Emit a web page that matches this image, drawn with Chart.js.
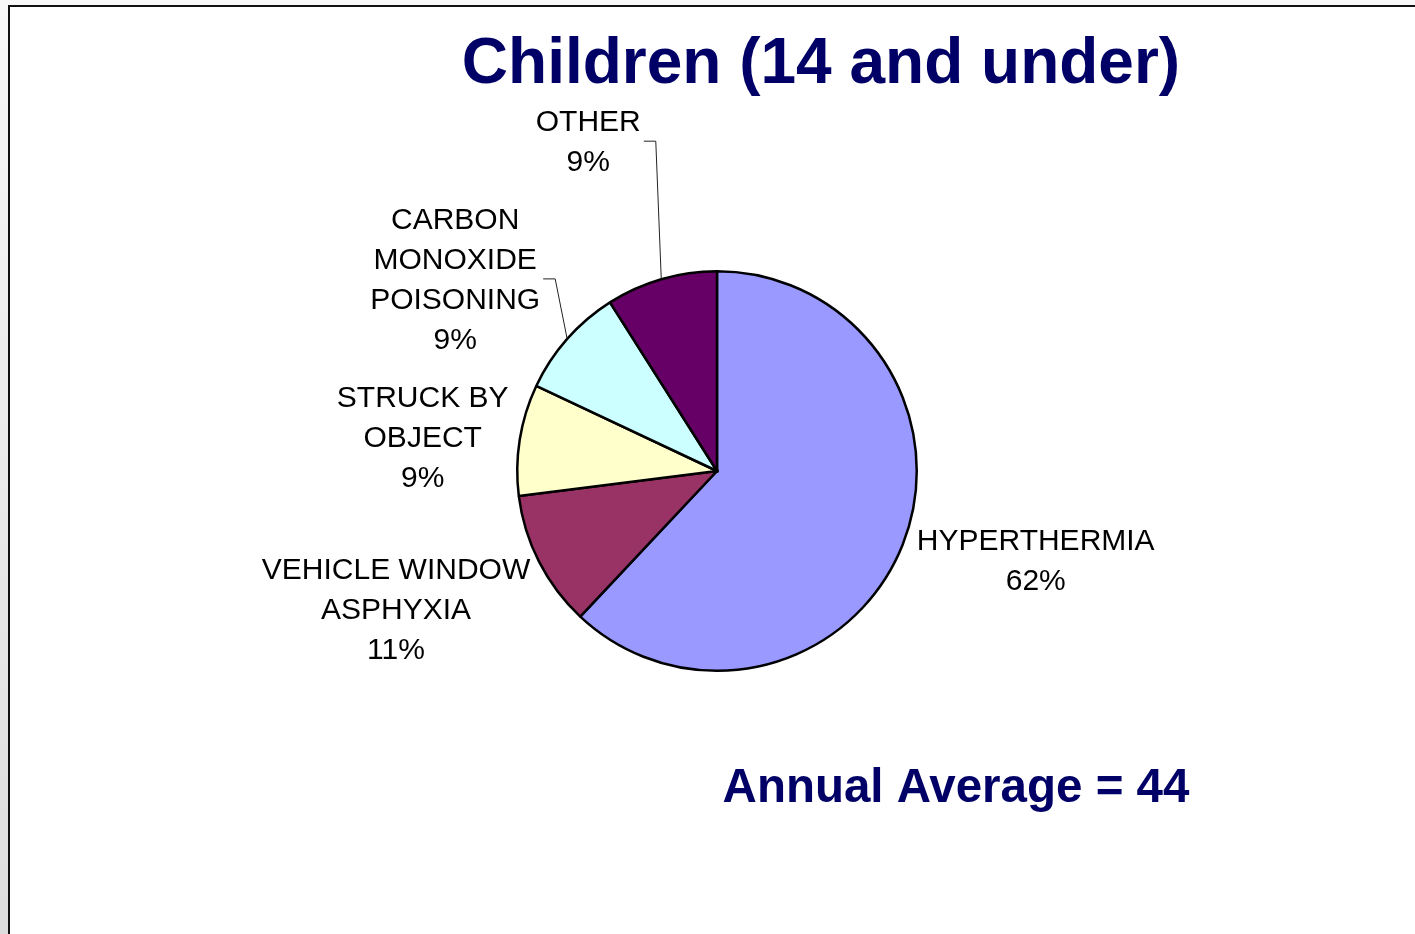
<!DOCTYPE html>
<html>
<head>
<meta charset="utf-8">
<title>Children (14 and under)</title>
<script src="https://cdn.jsdelivr.net/npm/chart.js@4.4.0/dist/chart.umd.min.js"></script>
<style>
  html, body { margin: 0; padding: 0; }
  body {
    width: 1415px; height: 934px; overflow: hidden; position: relative;
    background: linear-gradient(to bottom, #f8f8f8, #dcdcdc);
  }
  #slide {
    position: absolute; left: 8px; top: 5px; right: -10px; bottom: -10px;
    background: #fff; border-left: 2px solid #111; border-top: 2px solid #111;
  }
  #chart { position: absolute; left: 0; top: 0; }
</style>
</head>
<body>
<div id="slide"></div>
<canvas id="chart" width="1415" height="934"></canvas>
<script>
const categories = [
    ['HYPERTHERMIA'],
    ['VEHICLE WINDOW', 'ASPHYXIA'],
    ['STRUCK BY', 'OBJECT'],
    ['CARBON', 'MONOXIDE', 'POISONING'],
    ['OTHER']
];
const shares = [62, 11, 9, 9, 9];
const sliceColors = ['#9999FF', '#993366', '#FFFFCC', '#CCFFFF', '#660066'];
const titleText = 'Children (14 and under)';
const noteText = 'Annual Average = 44';

// label block centre, relative to the point where the slice's mid-angle meets the rim
const labelOffsets = [
    { dx: 133, dy: 17 },
    { dx: -143, dy: 49 },
    { dx: -97, dy: -1 },
    { dx: -112, dy: -58, leader: true },
    { dx: -73, dy: -136, leader: true }
];

const textPlugin = {
    id: 'sliceText',
    afterDatasetsDraw(chart) {
        const ctx = chart.ctx;
        const arcs = chart.getDatasetMeta(0).data;
        ctx.save();
        ctx.font = '30px "Liberation Sans", Arial, sans-serif';
        ctx.textAlign = 'center';
        ctx.textBaseline = 'middle';
        ctx.fillStyle = '#000';
        const lineH = 40;
        arcs.forEach((arc, i) => {
            const mid = (arc.startAngle + arc.endAngle) / 2;
            const ax = arc.x + Math.cos(mid) * arc.outerRadius;
            const ay = arc.y + Math.sin(mid) * arc.outerRadius;
            const off = labelOffsets[i];
            const cx = ax + off.dx;
            const cy = ay + off.dy;
            const lines = categories[i].concat([shares[i] + '%']);
            const top = cy - (lines.length - 1) * lineH / 2;
            let maxW = 0;
            lines.forEach((t, k) => {
                ctx.fillText(t, cx, top + k * lineH);
                maxW = Math.max(maxW, ctx.measureText(t).width);
            });
            if (off.leader) {
                const sx = cx + maxW / 2 + 3;
                ctx.beginPath();
                ctx.strokeStyle = '#222';
                ctx.lineWidth = 1;
                ctx.moveTo(sx, cy - 2);
                ctx.lineTo(sx + 12, cy - 2);
                ctx.lineTo(ax, ay);
                ctx.stroke();
            }
        });
        // small mark at the pie centre
        ctx.fillStyle = '#000';
        ctx.beginPath();
        ctx.arc(arcs[0].x, arcs[0].y, 2, 0, Math.PI * 2);
        ctx.fill();

        ctx.fillStyle = '#000066';
        ctx.font = 'bold 64px "Liberation Sans", Arial, sans-serif';
        ctx.textBaseline = 'alphabetic';
        ctx.fillText(titleText, 821, 83);
        ctx.font = 'bold 47.5px "Liberation Sans", Arial, sans-serif';
        ctx.fillText(noteText, 956, 802);
        ctx.restore();
    }
};

new Chart(document.getElementById('chart'), {
    type: 'pie',
    data: {
        labels: categories.map(c => c.join(' ')),
        datasets: [{
            data: shares,
            backgroundColor: sliceColors,
            borderColor: '#000',
            borderWidth: 2.5,
            borderAlign: 'center'
        }]
    },
    options: {
        responsive: false,
        animation: false,
        layout: { padding: { left: 516, right: 497, top: 270, bottom: 262 } },
        plugins: {
            legend: { display: false },
            tooltip: { enabled: false },
            title: { display: false }
        }
    },
    plugins: [textPlugin]
});
</script>
</body>
</html>
